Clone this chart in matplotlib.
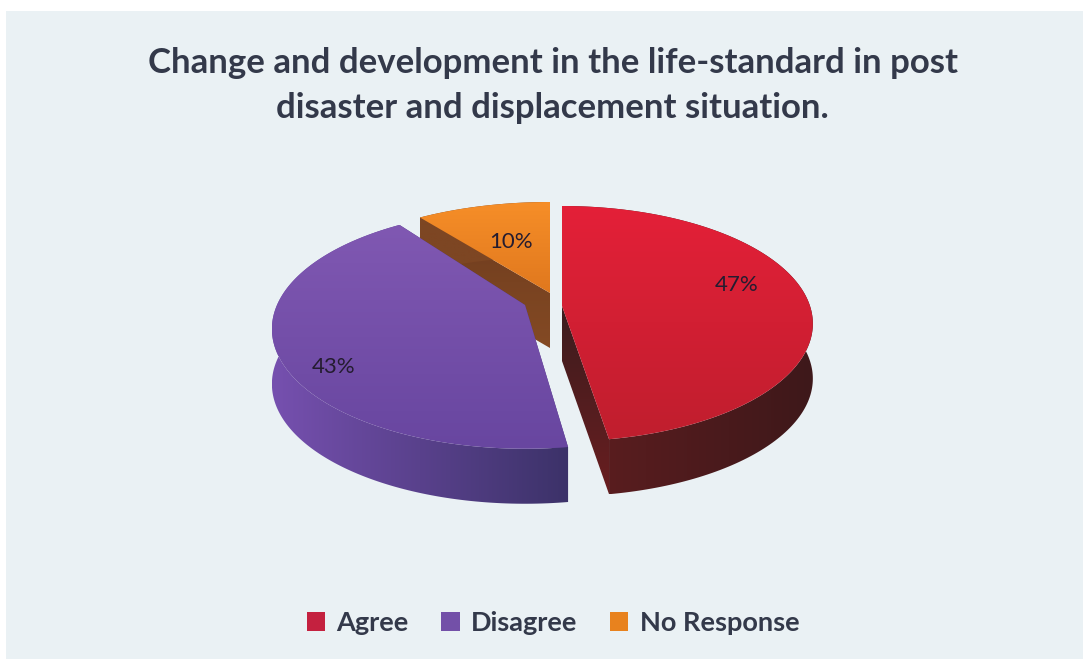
import numpy as np
import matplotlib
matplotlib.use("Agg")
import matplotlib.pyplot as plt
from matplotlib.patches import Polygon, Rectangle, Patch

title = "Change and development in the life-standard in post\ndisaster and displacement situation."
categories = ["Agree", "Disagree", "No Response"]
values = [47, 43, 10]
labels = ["47%", "43%", "10%"]

# styles
BG = "#eaf1f4"
TXT = "#33394a"
top_grad = [((228, 32, 56), (192, 30, 46)), ((128, 88, 178), (104, 70, 160)), ((246, 142, 40), (224, 120, 30))]
rim_grad = [((95, 30, 32), (62, 24, 26)), ((118, 80, 175), (60, 50, 105)), ((125, 70, 35), (125, 70, 35))]
cut_grad = [((60, 28, 30), (105, 30, 32)), ((80, 60, 130), (80, 60, 130)), ((110, 60, 30), (132, 74, 36))]
legend_cols = ["#c4213f", "#7350a8", "#e8821e"]
apex = [(562, 306), (525, 305), (550, 293)]
y_scale = [1.0, 1.0, 0.91]
persp = [0.15, 0.20, 0.15]
view_nudge_deg = [(0, 1.5), (2.8, 0), (0, 0)]  # small view distortion on wedge edges
label_r = [0.715, 0.79, 0.55]
label_dy = [-13, 24, 0]
A, B, DEPTH = 248, 115, 55

fig = plt.figure(figsize=(10.83, 6.59), dpi=100, facecolor="white")
ax = fig.add_axes([0, 0, 1, 1])
ax.set_xlim(0, 1083); ax.set_ylim(659, 0); ax.axis("off")
ax.add_patch(Rectangle((6, 11), 1077, 648, fc=BG, ec="none", zorder=0))


def proj(t, r, i):
    u, v = r * np.sin(t), r * np.cos(t)
    d = 1 + persp[i] * v
    return apex[i][0] + A * u / d, apex[i][1] - B * y_scale[i] * v / d


def grad_fill(pts, c0, c1, z, vertical=True):
    pts = np.asarray(pts)
    x0, y0 = pts.min(0); x1, y1 = pts.max(0)
    s = np.linspace(0, 1, 128)
    g = s[:, None] if vertical else s[None, :]
    rgb = (np.array(c0) * (1 - g[..., None]) + np.array(c1) * g[..., None]) / 255
    im = ax.imshow(rgb, extent=(x0, x1, y1, y0), aspect="auto", zorder=z, interpolation="bilinear")
    poly = Polygon(pts, closed=True, transform=ax.transData, fc="none", ec="none")
    ax.add_patch(poly)
    im.set_clip_path(poly)


fr = np.array(values, float) / sum(values)
edges = np.concatenate([[0], np.cumsum(fr)]) * 2 * np.pi
order = [2, 1, 0]
for i in order:
    n0, n1 = np.radians(view_nudge_deg[i])
    ts = np.linspace(edges[i] + n0, edges[i + 1] + n1, 160)
    xs, ys = proj(ts, 1, i)
    arc = np.c_[xs, ys]
    ap = np.array(apex[i], float)
    down = np.array([0, DEPTH])
    z = 2 + (2 - i) * 3
    # cut faces
    for end in (0, -1):
        p = arc[end]
        grad_fill([ap, p, p + down, ap + down], *cut_grad[i], z, vertical=True)
    # outer wall
    wall = np.vstack([arc, (arc + down)[::-1]])
    grad_fill(wall, *rim_grad[i], z + 1, vertical=False)
    # top face
    face = np.vstack([ap, arc])
    grad_fill(face, *top_grad[i], z + 2, vertical=True)
    # label
    mid = (edges[i] + edges[i + 1]) / 2
    lx, ly = proj(mid, label_r[i], i)
    ax.text(lx, ly + label_dy[i], labels[i], ha="center", va="center", fontsize=16,
            family="Lato", color="#241c30", zorder=20)

ax.set_xlim(0, 1083); ax.set_ylim(659, 0)

ax.text(552.5, 85.5, title, ha="center", va="center", fontsize=25, family="Lato", weight="bold",
        color=TXT, linespacing=1.52, zorder=20)

handles = [Patch(fc=c, ec="none", label=n) for c, n in zip(legend_cols, categories)]
leg = ax.legend(handles=handles, loc="center", bbox_to_anchor=(553 / 1083, 1 - 623 / 659), ncol=3,
                frameon=False, prop={"family": "Lato", "weight": "bold", "size": 19.5},
                handlelength=0.68, handleheight=0.68, handletextpad=0.42, columnspacing=1.2, labelcolor=TXT)

fig.savefig("out.png", dpi=100, facecolor="white")
